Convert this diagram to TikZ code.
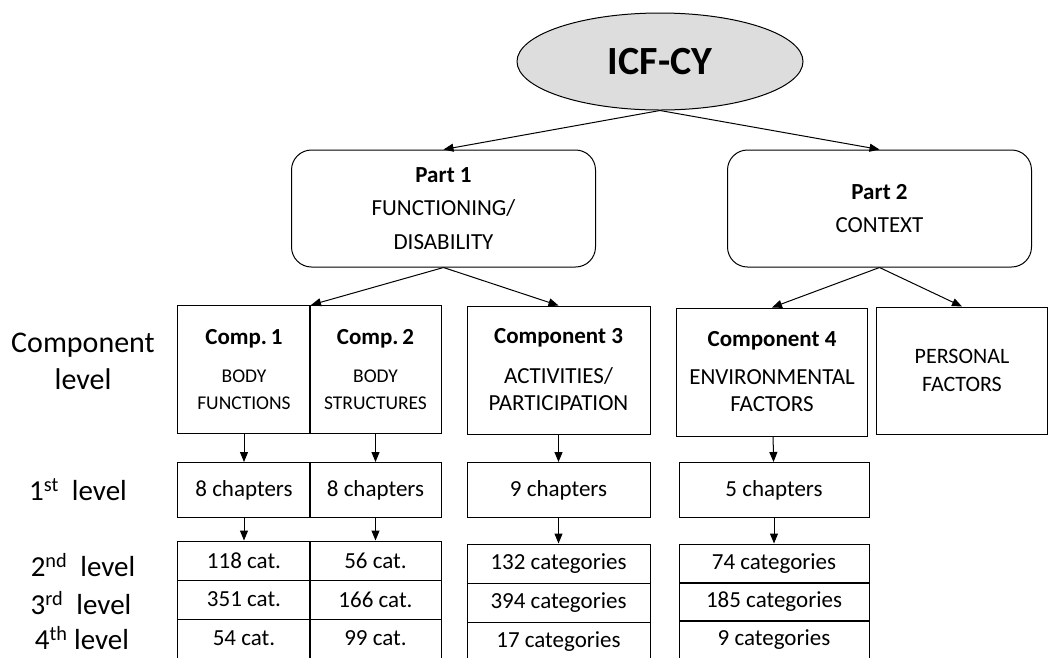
\documentclass[tikz,border=0pt]{standalone}
\usepackage{fontspec}
\setmainfont{Carlito}
\usetikzlibrary{positioning}
\usetikzlibrary{arrows.meta}
\usetikzlibrary{shapes.geometric}

\newcommand{\compsize}{\fontsize{19.5}{26}\selectfont}

\begin{document}
\begin{tikzpicture}[%
  x=1pt, y=-1pt,
  >={Triangle[length=10pt,width=8pt]},
  every node/.style={line width=1pt, inner sep=0pt, align=center},
  txt/.style={font=\fontsize{23}{27}\selectfont},
  lvl/.style={font=\fontsize{29}{37}\selectfont},
  partbox/.style={draw, rounded corners=20pt, minimum width=304pt,
    minimum height=117pt, font=\fontsize{23}{33.5}\selectfont},
  compbox/.style={draw, minimum height=128pt, txt},
  chapbox/.style={draw, minimum height=55pt, txt},
  catbox/.style={draw, minimum height=39pt, txt},
  link/.style={->, line width=1pt},
]

  \useasboundingbox (0,0) rectangle (1048,657);
  \clip (0,0) rectangle (1048,657);

  % top of the tree
  \node[draw, ellipse, fill=gray!27, minimum width=286pt, minimum height=97pt,
    font=\fontsize{40}{48}\selectfont\bfseries] (icf) at (660,61.5) {ICF-CY};

  \node[partbox] (part1) at (443.5,208.5)
    {\textbf{Part 1}\\FUNCTIONING/\\DISABILITY};
  \node[partbox] (part2) at (879.5,208.5)
    {\textbf{Part 2}\\CONTEXT};

  % components
  \node[compbox, minimum width=133pt] (comp1) at (244,369.5)
    {\textbf{Comp.\,1}\\[11pt]{\compsize BODY}\\{\compsize FUNCTIONS}};
  \node[compbox, minimum width=132pt] (comp2) at (375.5,369.5)
    {\textbf{Comp.\,2}\\[11pt]{\compsize BODY}\\{\compsize STRUCTURES}};
  \node[compbox, minimum width=183pt] (comp3) at (558.5,370)
    {\textbf{Component 3}\\[13pt]ACTIVITIES/\\PARTICIPATION};
  \node[compbox, minimum width=191pt] (comp4) at (772,372)
    {\textbf{Component 4}\\[11pt]ENVIRONMENTAL\\FACTORS};
  \node[draw, minimum width=171pt, minimum height=127pt,
    font=\fontsize{22}{28}\selectfont] (pers) at (962,370.5)
    {PERSONAL\\FACTORS};

  % 1st level
  \node[chapbox, minimum width=133pt] (ch1) at (244,490) {8 chapters};
  \node[chapbox, minimum width=132pt] (ch2) at (375.5,490) {8 chapters};
  \node[chapbox, minimum width=183pt] (ch3) at (558.5,490) {9 chapters};
  \node[chapbox, minimum width=190pt] (ch4) at (774,490) {5 chapters};

  % 2nd to 4th level
  \node[catbox, minimum width=133pt] (c1a) at (244,560.5) {118 cat.};
  \node[catbox, minimum width=133pt] (c1b) at (244,599.5) {351 cat.};
  \node[catbox, minimum width=133pt] (c1c) at (244,638.5) {54 cat.};
  \node[catbox, minimum width=132pt] (c2a) at (375.5,560.5) {56 cat.};
  \node[catbox, minimum width=132pt] (c2b) at (375.5,599.5) {166 cat.};
  \node[catbox, minimum width=132pt] (c2c) at (375.5,638.5) {99 cat.};
  \node[catbox, minimum width=183pt] (c3a) at (558.5,563.5) {132 categories};
  \node[catbox, minimum width=183pt] (c3b) at (558.5,602.5) {394 categories};
  \node[catbox, minimum width=183pt] (c3c) at (558.5,641.5) {17 categories};
  \node[catbox, minimum width=190pt] (c4a) at (774,563.5) {74 categories};
  \node[catbox, minimum width=190pt] (c4b) at (774,601.5) {185 categories};
  \node[catbox, minimum width=190pt] (c4c) at (774,639.5) {9 categories};

  % row labels
  \node[lvl, font=\fontsize{30}{37}\selectfont] (lcomp) at (83,361) {Component\\level};
  \node[lvl] (l1) at (78,490) {1\textsuperscript{st}\ \ level};
  \node[lvl] (l2) at (83,565) {2\textsuperscript{nd}\ \ level};
  \node[lvl] (l3) at (81,603) {3\textsuperscript{rd}\ \ level};
  \node[lvl] (l4) at (82,638) {4\textsuperscript{th} level};

  % arrows
  \draw[link] (icf.south) -- (part1.north);
  \draw[link] (icf.south) -- (part2.north);
  \draw[link] (part1.south) -- (comp1.north east);
  \draw[link] (part1.south) -- (comp3.north);
  \draw[link] (part2.south) -- (comp4.north);
  \draw[link] (part2.south) -- (pers.north);

  \draw[link] (comp1) -- (ch1);
  \draw[link] (comp2) -- (ch2);
  \draw[link] (comp3) -- (ch3);
  \draw[link] (comp4) -- (ch4);

  \draw[link] (ch1) -- (c1a);
  \draw[link] (ch2) -- (c2a);
  \draw[link] (ch3) -- (c3a);
  \draw[link] (ch4) -- (c4a);

\end{tikzpicture}
\end{document}
